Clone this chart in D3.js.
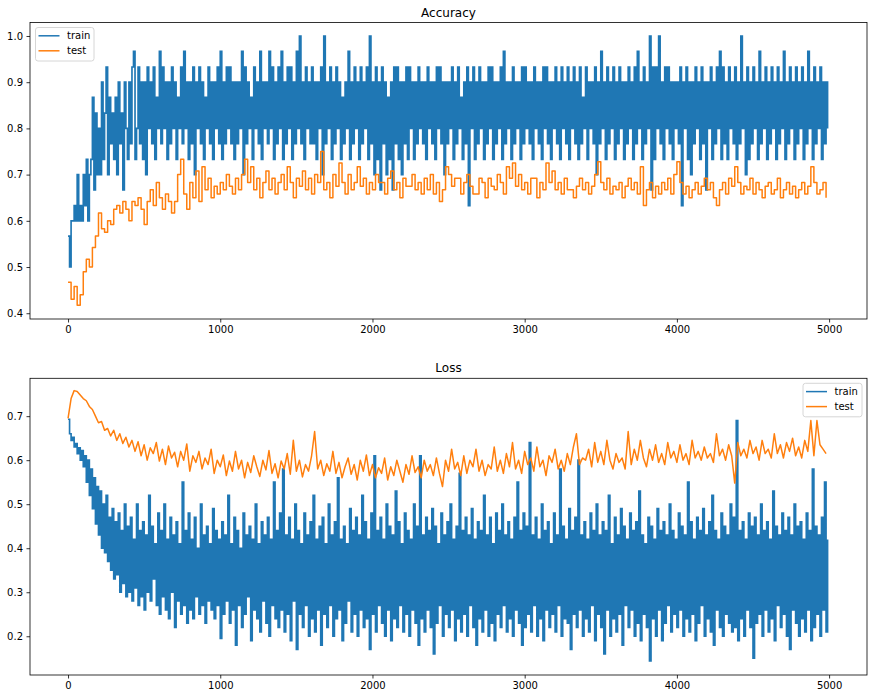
<!DOCTYPE html>
<html><head><meta charset="utf-8">
<script src="https://cdn.jsdelivr.net/npm/d3@7"></script>
<style>body{margin:0;background:#fff}svg text{font-family:"DejaVu Sans",sans-serif;fill:#000}</style>
</head><body><svg id="chart" width="874" height="699"></svg>
<script>
const trainStep = 10, testStep = 20;
const seriesNames = ["train", "test"];
const xTicks = [0, 1000, 2000, 3000, 4000, 5000];
const accTicks = [0.4, 0.5, 0.6, 0.7, 0.8, 0.9, 1.0];
const lossTicks = [0.2, 0.3, 0.4, 0.5, 0.6, 0.7];

const accTrain = [
.567,.5,.6,.6,.633,.6,.7,.6,.633,.6,
.7,.633,.733,.6,.7,.733,.867,.667,.833,.7,
.8,.7,.9,.733,.833,.933,.7,.867,.767,.833,
.733,.867,.7,.9,.767,.833,.667,.9,.8,.733,
.9,.767,.933,.967,.733,.8,.933,.767,.9,.733,
.9,.7,.933,.8,.9,.767,.933,.733,.867,.8,
.967,.767,.933,.8,.9,.733,.9,.767,.933,.8,
.9,.733,.867,.8,.933,.767,.967,.8,.9,.733,
.9,.767,.933,.7,.9,.8,.933,.767,.9,.733,
.867,.8,.933,.767,.9,.733,.9,.8,.933,.767,
.967,.733,.9,.767,.933,.8,.933,.767,.9,.733,
.9,.767,.9,.8,.967,.7,.933,.767,.9,.8,
.867,.733,.933,.8,.9,.767,.967,.733,.9,.8,
.9,.767,.967,.8,.933,.733,.9,.767,.933,.8,
.967,.733,.9,.767,.933,.8,.933,.733,.9,.767,
.967,.8,1,.767,.9,.733,.933,.8,.9,.767,
.933,.767,.9,.733,.9,.8,.933,.7,1,.767,
.9,.8,.933,.733,.9,.767,.933,.8,.9,.733,
.867,.767,.9,.8,.967,.733,.9,.767,.933,.8,
.9,.733,.933,.767,.9,.8,.933,.733,1,.767,
.9,.7,.933,.733,.9,.667,.933,.767,.9,.7,
.867,.733,.9,.667,.933,.767,.933,.733,.9,.7,
.9,.767,.933,.733,.933,.8,.9,.733,.9,.767,
.933,.8,.9,.767,.9,.733,.933,.8,.9,.767,
.9,.733,.933,.8,.933,.767,.9,.7,.9,.767,
.9,.8,.933,.733,.9,.767,.933,.8,.867,.733,
.9,.767,.933,.633,.9,.8,.933,.733,.9,.767,
.933,.8,.9,.733,.9,.767,.933,.8,.933,.733,
.9,.767,.9,.8,.933,.733,.967,.767,.9,.8,
.9,.733,.933,.767,.9,.8,.9,.733,.933,.767,
.933,.8,.9,.767,.9,.733,.933,.8,.9,.767,
.9,.733,.933,.8,.933,.767,.9,.733,.9,.8,
.933,.767,.9,.733,.933,.8,.9,.767,.933,.733,
.9,.8,.933,.767,.9,.733,.933,.767,.867,.8,
.933,.733,.9,.8,.9,.767,.933,.7,.9,.767,
.967,.8,.9,.733,.933,.767,.9,.8,.933,.733,
.9,.767,.933,.8,.9,.733,.9,.767,.933,.8,
.9,.733,.933,.767,.967,.8,.9,.733,.933,.767,
.9,.8,1,.667,.933,.733,.933,.8,1,.767,
.9,.733,.933,.8,.933,.767,.9,.733,.9,.8,
.9,.767,.933,.633,.9,.8,.933,.733,.9,.7,
.9,.767,.933,.8,.9,.733,.933,.767,.9,.667,
.9,.8,.933,.733,.9,.767,.933,.8,.967,.733,
.933,.767,.9,.733,.933,.8,.9,.767,.933,.733,
.9,.767,1,.8,.9,.7,.933,.733,.9,.767,
.933,.8,.9,.733,.967,.767,.9,.8,.933,.733,
.9,.767,.933,.8,.9,.733,.933,.767,.9,.8,
.967,.733,.9,.767,.933,.8,.9,.733,.933,.767,
.9,.8,.933,.733,.9,.767,.967,.8,.9,.733,
.933,.767,.9,.8,.933,.733,.9,.767,.9,.8
];

const accTest = [
.467,.43,.458,.417,.44,.49,.517,.5,.542,.567,
.617,.583,.575,.6,.592,.625,.633,.617,.642,.625,
.6,.642,.633,.65,.625,.592,.642,.667,.633,.683,
.65,.625,.658,.642,.617,.642,.7,.733,.658,.625,
.683,.65,.708,.642,.717,.667,.692,.65,.675,.658,
.683,.667,.7,.675,.658,.692,.667,.7,.733,.683,
.717,.667,.692,.65,.683,.708,.667,.692,.658,.683,
.7,.667,.717,.683,.65,.692,.675,.708,.667,.692,
.658,.7,.683,.75,.667,.683,.65,.7,.675,.725,
.683,.658,.7,.667,.683,.717,.675,.692,.658,.683,
.667,.7,.683,.683,.658,.692,.708,.667,.683,.65,
.692,.675,.675,.7,.667,.683,.658,.692,.667,.7,
.658,.683,.642,.667,.717,.7,.675,.692,.692,.658,
.683,.7,.675,.658,.658,.692,.683,.65,.692,.675,
.667,.7,.683,.658,.717,.692,.725,.675,.7,.667,
.683,.658,.692,.692,.65,.683,.667,.725,.683,.708,
.667,.683,.658,.692,.667,.667,.65,.675,.692,.667,
.683,.658,.675,.7,.728,.683,.667,.692,.658,.675,
.667,.683,.65,.675,.692,.667,.683,.658,.717,.633,
.667,.683,.65,.675,.658,.683,.667,.692,.658,.7,
.728,.683,.658,.675,.65,.667,.683,.658,.675,.692,
.667,.683,.65,.633,.667,.683,.658,.692,.675,.717,
.683,.658,.675,.667,.692,.658,.683,.667,.65,.675,
.683,.658,.667,.692,.65,.667,.683,.658,.675,.65,
.667,.683,.658,.675,.717,.683,.658,.667,.683,.65
];

const lossTrain = [
.693,.66,.645,.652,.63,.638,.615,.628,.6,.622,
.585,.61,.55,.6,.52,.58,.49,.56,.455,.54,
.43,.53,.4,.5,.39,.52,.37,.47,.35,.49,
.33,.46,.34,.48,.3,.44,.32,.5,.29,.45,
.3,.47,.28,.42,.31,.5,.27,.44,.29,.46,
.26,.43,.3,.52,.28,.45,.33,.41,.27,.48,
.25,.44,.29,.5,.26,.42,.24,.47,.3,.43,
.22,.46,.28,.41,.25,.55,.27,.44,.23,.48,
.26,.42,.24,.47,.29,.4,.25,.5,.27,.43,
.23,.45,.28,.41,.26,.49,.24,.44,.27,.42,
.195,.46,.25,.43,.28,.52,.23,.41,.26,.47,
.18,.44,.27,.4,.22,.48,.25,.43,.29,.45,
.19,.42,.26,.5,.24,.41,.21,.46,.28,.43,
.23,.47,.2,.42,.27,.55,.24,.44,.22,.48,
.26,.58,.21,.43,.25,.47,.19,.42,.28,.5,
.17,.44,.25,.41,.22,.48,.27,.43,.2,.46,
.24,.52,.21,.42,.26,.45,.18,.47,.25,.41,
.22,.5,.27,.43,.2,.46,.24,.56,.26,.42,
.19,.45,.23,.41,.28,.49,.21,.44,.25,.47,
.2,.43,.26,.52,.22,.46,.24,.42,.17,.48,
.25,.61,.21,.44,.27,.47,.23,.42,.2,.5,
.26,.45,.19,.43,.24,.53,.22,.46,.27,.41,
.21,.48,.25,.44,.2,.42,.26,.5,.23,.45,
.18,.61,.24,.43,.21,.47,.26,.44,.22,.49,
.16,.45,.23,.41,.27,.48,.2,.43,.25,.46,
.22,.5,.26,.42,.19,.45,.24,.57,.21,.44,
.25,.47,.2,.43,.27,.49,.22,.42,.18,.46,
.24,.44,.21,.52,.26,.43,.2,.47,.23,.41,
.19,.48,.25,.44,.22,.5,.27,.43,.21,.46,
.24,.42,.2,.47,.26,.55,.23,.44,.18,.48,
.22,.45,.25,.64,.21,.43,.27,.47,.2,.42,
.24,.5,.19,.44,.26,.46,.22,.41,.25,.48,
.21,.43,.27,.58,.2,.45,.24,.42,.23,.49,
.17,.44,.25,.47,.22,.6,.26,.43,.2,.46,
.24,.42,.21,.48,.27,.44,.19,.5,.25,.43,
.22,.46,.16,.44,.26,.52,.2,.41,.24,.47,
.21,.43,.25,.49,.18,.45,.27,.42,.22,.48,
.26,.44,.2,.46,.23,.53,.19,.43,.25,.41,
.22,.47,.144,.45,.24,.42,.2,.49,.26,.44,
.19,.46,.23,.43,.27,.5,.21,.44,.25,.42,
.22,.48,.26,.45,.2,.43,.24,.55,.21,.46,
.25,.42,.19,.47,.23,.44,.27,.49,.2,.43,
.24,.46,.21,.52,.18,.44,.26,.42,.22,.48,
.2,.45,.25,.43,.23,.5,.21,.47,.22,.69,
.19,.44,.24,.46,.2,.42,.26,.48,.22,.45,
.15,.47,.23,.43,.25,.5,.2,.44,.26,.46,
.21,.42,.24,.53,.19,.45,.27,.43,.22,.48,
.25,.44,.2,.47,.17,.43,.26,.5,.23,.45,
.2,.46,.24,.42,.21,.48,.26,.44,.19,.58,
.22,.45,.25,.43,.2,.47,.26,.55,.21,.42
];

const lossTest = [
.695,.74,.758,.756,.748,.74,.735,.722,.715,.7,
.685,.688,.668,.672,.655,.668,.645,.66,.638,.652,
.63,.645,.62,.642,.61,.635,.6,.628,.615,.64,
.598,.625,.59,.632,.605,.618,.585,.62,.6,.637,
.575,.61,.595,.62,.58,.605,.59,.625,.57,.6,
.585,.612,.565,.598,.575,.62,.58,.6,.56,.595,
.572,.61,.585,.563,.6,.578,.622,.57,.592,.56,
.598,.58,.615,.568,.645,.575,.6,.562,.59,.575,
.61,.665,.58,.6,.565,.592,.575,.62,.57,.595,
.56,.585,.605,.568,.59,.555,.6,.575,.612,.565,
.59,.56,.583,.57,.605,.555,.585,.565,.6,.575,
.55,.59,.568,.61,.572,.585,.56,.6,.575,.59,
.565,.605,.57,.54,.6,.575,.625,.58,.595,.565,
.61,.57,.6,.585,.625,.575,.6,.565,.59,.58,
.63,.575,.6,.57,.615,.585,.64,.58,.6,.57,
.62,.59,.605,.575,.63,.585,.6,.565,.61,.595,
.625,.58,.6,.575,.615,.59,.63,.66,.59,.605,
.6,.625,.585,.64,.595,.62,.59,.645,.6,.58,
.615,.595,.605,.58,.665,.59,.625,.6,.645,.605,
.585,.625,.6,.635,.595,.615,.59,.64,.605,.62,
.595,.635,.6,.615,.59,.645,.605,.62,.6,.63,
.605,.615,.595,.66,.61,.625,.6,.635,.61,.548,
.64,.61,.625,.605,.645,.615,.63,.6,.645,.615,
.625,.605,.66,.615,.635,.605,.64,.62,.65,.61,
.63,.605,.645,.62,.69,.61,.69,.635,.625,.615
];

const svg = d3.select("#chart");
const blue = "#1f77b4", orange = "#ff7f0e";
const xDomain = [-249.95, 5248.95];

function panel(cfg) {
  const x = d3.scaleLinear().domain(xDomain).range([cfg.left, cfg.right]);
  const y = d3.scaleLinear().domain(cfg.yDomain).range([cfg.bottom, cfg.top]);
  const g = svg.append("g");
  const line = (step, curve) => d3.line().curve(curve).x((d, i) => x(i * step)).y(d => y(d));
  g.append("path").datum(cfg.train).attr("d", line(trainStep, d3.curveStepAfter))
    .attr("fill", "none").attr("stroke", blue).attr("stroke-width", 1.65);
  g.append("path").datum(cfg.test).attr("d", line(testStep, cfg.testCurve))
    .attr("fill", "none").attr("stroke", orange).attr("stroke-width", 1.5).attr("stroke-linejoin", "round");

  const xa = g.append("g").attr("transform", `translate(0,${cfg.bottom})`)
    .call(d3.axisBottom(x).tickValues(xTicks).tickSize(3.5).tickPadding(3.5).tickFormat(d3.format("d")));
  const ya = g.append("g").attr("transform", `translate(${cfg.left},0)`)
    .call(d3.axisLeft(y).tickValues(cfg.yTicks).tickSize(3.5).tickPadding(3.5).tickFormat(d3.format(".1f")));
  [xa, ya].forEach(a => {
    a.select(".domain").remove();
    a.selectAll("line").attr("stroke", "#000").attr("stroke-width", 0.8);
    a.selectAll("text").attr("font-size", 10).attr("font-family", "DejaVu Sans").attr("fill", "#000");
  });
  g.append("rect").attr("x", cfg.left).attr("y", cfg.top)
    .attr("width", cfg.right - cfg.left).attr("height", cfg.bottom - cfg.top)
    .attr("fill", "none").attr("stroke", "#000").attr("stroke-width", 0.8);
  g.append("text").attr("x", (cfg.left + cfg.right) / 2).attr("y", cfg.top - 6)
    .attr("text-anchor", "middle").attr("font-size", 12).text(cfg.title);

  const L = cfg.legend;
  const lg = g.append("g").attr("transform", `translate(${L.x},${L.y})`);
  lg.append("rect").attr("x", 0).attr("y", 0).attr("width", L.w).attr("height", 33.5)
    .attr("rx", 2.5).attr("fill", "#fff").attr("fill-opacity", 0.8)
    .attr("stroke", "#cccccc").attr("stroke-width", 0.8);
  seriesNames.forEach((n, i) => {
    const yy = 8.3 + i * 15;
    lg.append("line").attr("x1", 3).attr("x2", 24).attr("y1", yy).attr("y2", yy)
      .attr("stroke", i === 0 ? blue : orange).attr("stroke-width", 1.5);
    lg.append("text").attr("x", 31.5).attr("y", yy + 3.6).attr("font-size", 10).text(n);
  });
}

panel({title: "Accuracy", left: 30, right: 867, top: 22.5, bottom: 319,
  yDomain: [0.3875, 1.0292], yTicks: accTicks, train: accTrain, test: accTest,
  testCurve: d3.curveStepAfter,
  legend: {x: 35.5, y: 27.5, w: 58.5}});
panel({title: "Loss", left: 30, right: 867, top: 378.3, bottom: 675,
  yDomain: [0.112, 0.786], yTicks: lossTicks, train: lossTrain, test: lossTest,
  testCurve: d3.curveLinear,
  legend: {x: 803, y: 383.3, w: 59}});
</script></body></html>
